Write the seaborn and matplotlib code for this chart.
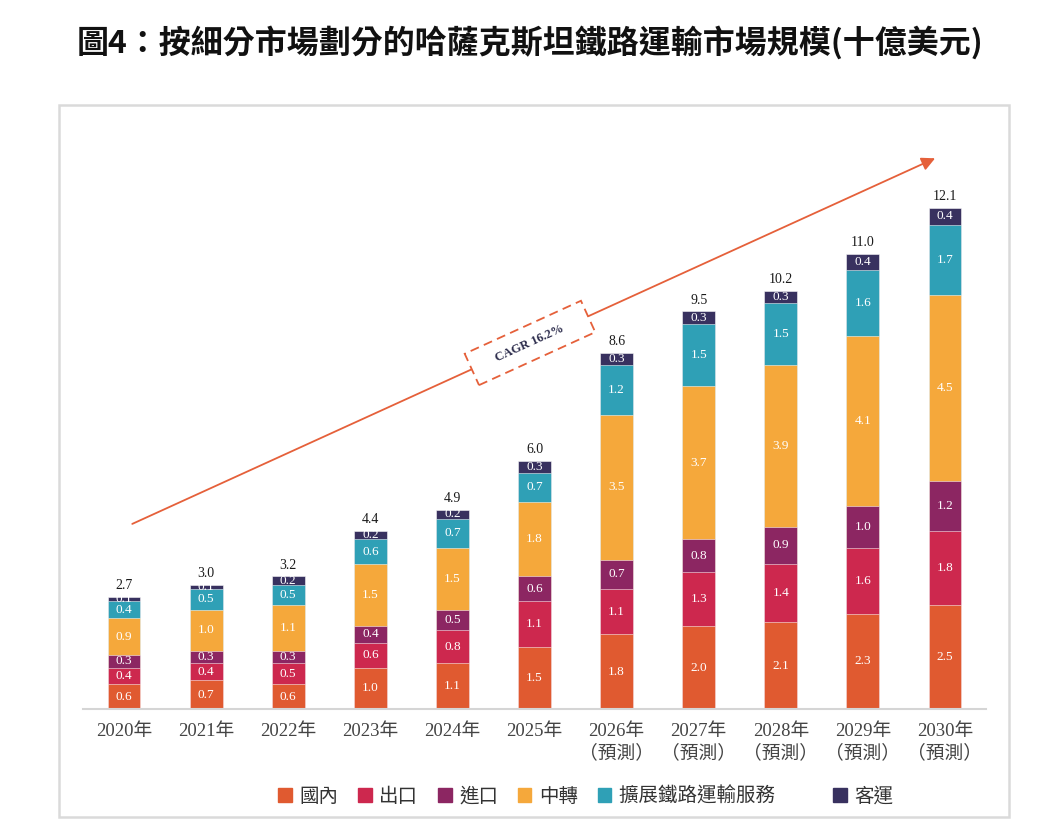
import matplotlib
matplotlib.use("Agg")
import matplotlib.pyplot as plt
import seaborn as sns
import numpy as np
from matplotlib.patches import Patch, Rectangle

sns.set_theme(style="white")
plt.rcParams['font.family'] = ['Liberation Serif', 'Noto Sans CJK TC', 'DejaVu Sans']

# ---- data ----
years = ["2020年", "2021年", "2022年", "2023年", "2024年", "2025年",
         "2026年\n（預測）", "2027年\n（預測）", "2028年\n（預測）",
         "2029年\n（預測）", "2030年\n（預測）"]
series_names = ["國內", "出口", "進口", "中轉", "擴展鐵路運輸服務", "客運"]
domestic = [0.6, 0.7, 0.6, 1.0, 1.1, 1.5, 1.8, 2.0, 2.1, 2.3, 2.5]
export = [0.4, 0.4, 0.5, 0.6, 0.8, 1.1, 1.1, 1.3, 1.4, 1.6, 1.8]
imports = [0.3, 0.3, 0.3, 0.4, 0.5, 0.6, 0.7, 0.8, 0.9, 1.0, 1.2]
transit = [0.9, 1.0, 1.1, 1.5, 1.5, 1.8, 3.5, 3.7, 3.9, 4.1, 4.5]
extended = [0.4, 0.5, 0.5, 0.6, 0.7, 0.7, 1.2, 1.5, 1.5, 1.6, 1.7]
passenger = [0.1, 0.1, 0.2, 0.2, 0.2, 0.3, 0.3, 0.3, 0.3, 0.4, 0.4]
totals = [2.7, 3.0, 3.2, 4.4, 4.9, 6.0, 8.6, 9.5, 10.2, 11.0, 12.1]
cagr_label = "CAGR 16.2%"
title = "圖4：按細分市場劃分的哈薩克斯坦鐵路運輸市場規模(十億美元)"

colors = ["#E05A30", "#CD284E", "#8C2662", "#F5A83B", "#2FA0B6", "#38315F"]
layers = [domestic, export, imports, transit, extended, passenger]

fig = plt.figure(figsize=(10.43, 8.30), dpi=100)
ax = fig.add_axes([83/1043, 1-709/830, (986-83)/1043, (709-150)/830])

cum = np.cumsum(np.array(layers), axis=0)
# draw from tallest cumulative layer down so each shows its own segment
for i in range(len(layers)-1, -1, -1):
    sns.barplot(x=years, y=cum[i], color=colors[i], width=0.4, ax=ax,
                saturation=1, edgecolor=(1, 1, 1, 0.6), linewidth=0.6)

# segment labels
for i, vals in enumerate(layers):
    for j, v in enumerate(vals):
        center = cum[i][j] - v / 2
        ax.text(j, center, f"{v:.1f}", ha="center", va="center",
                color="white", fontsize=9.5, family=['Liberation Serif'])

# totals
for j, t in enumerate(totals):
    ax.text(j, cum[-1][j] + 0.12, f"{t:.1f}", ha="center", va="bottom",
            color="#1a1a1a", fontsize=10, family=['Liberation Serif'])

ax.set_xlim(-0.5, 10.5)
ax.set_ylim(0, 13.5)
for s in ["top", "left", "right"]:
    ax.spines[s].set_visible(False)
ax.spines["bottom"].set_color("#D5D5D5")
ax.spines["bottom"].set_linewidth(1.5)
ax.set_yticks([])
ax.set_ylabel("")
ax.tick_params(axis="x", length=0, pad=10, labelsize=13.5, colors="#444444")
for lab in ax.get_xticklabels():
    lab.set_family(['Liberation Serif', 'Noto Sans CJK TC'])
    lab.set_linespacing(1.35)

# CAGR arrow
ax.annotate("", xy=(9.88, 13.3), xytext=(0.10, 4.47),
            arrowprops=dict(arrowstyle="-|>", color="#E5603A", lw=1.3,
                            mutation_scale=20, shrinkA=0, shrinkB=0),
            annotation_clip=False)
ax.text(4.945, 8.84, "     " + cagr_label + "     ", rotation=24.5, rotation_mode="anchor",
        ha="center", va="center", fontsize=9, fontweight="bold", color="#2B2B4B",
        family=['Liberation Serif'],
        bbox=dict(boxstyle="square,pad=0.9", fc="white", ec="#E5603A", ls=(0, (5, 3)), lw=1.3))

# frame
fig.patches.append(Rectangle((59/1043, 1-817/830), (1009-59)/1043, (817-105)/830,
                             transform=fig.transFigure, fill=False,
                             ec="#DADADA", lw=1.8))

# title
fig.text(530/1043, 1-43/830, title, ha="center", va="center", fontsize=23,
         fontweight="bold", color="#111111", family=['Noto Sans CJK TC'])

# legend
labels = list(series_names)
labels[4] = labels[4] + "\u3000\u3000"
handles = [Patch(facecolor=c, edgecolor=c) for c in colors]
fig.legend(handles, labels, loc="center", bbox_to_anchor=(586/1043, 1-796/830),
           ncol=6, frameon=False, handlelength=0.7, handleheight=0.7,
           handletextpad=0.4, columnspacing=1.0,
           prop={'family': ['Noto Sans CJK TC'], 'size': 14}, labelcolor="#333333")

fig.savefig("out.png", dpi=100)
